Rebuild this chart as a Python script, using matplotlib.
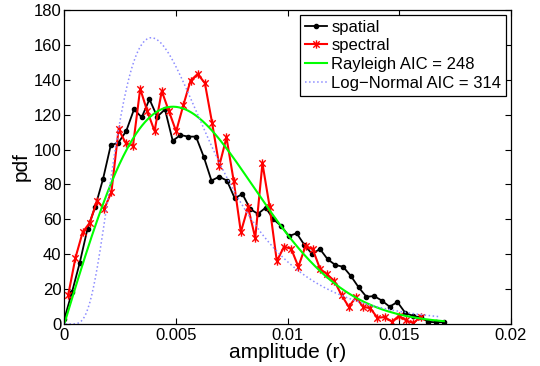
import numpy as np
import matplotlib
matplotlib.use("Agg")
import matplotlib.pyplot as plt
from matplotlib.path import Path

plt.rcParams['font.family'] = ['Liberation Sans', 'DejaVu Sans']

# ---- data ----
spatial_x = np.linspace(0.0, 0.017, 50)
spatial_y = [2.7, 18.3, 35.1, 54.6, 67.2, 83.0, 102.4, 104.0, 110.6, 123.0,
             118.5, 128.8, 118.8, 123.0, 105.0, 108.3, 107.4, 107.4, 95.9, 82.2,
             84.4, 82.2, 72.1, 74.5, 65.9, 63.1, 66.7, 60.0, 56.2, 50.4,
             52.0, 45.3, 40.1, 43.0, 37.1, 33.8, 32.8, 27.5, 21.0, 15.6,
             16.0, 13.4, 9.9, 12.6, 6.5, 4.6, 3.8, 1.2, 1.0, 1.0]

spectral_x = np.linspace(0.00018, 0.01596, 50)
spectral_y = [16.8, 38.0, 52.6, 58.1, 70.7, 65.9, 75.7, 111.6, 103.6, 102.2,
              134.8, 121.8, 110.6, 133.5, 121.9, 110.4, 125.4, 139.5, 143.3, 138.0,
              115.3, 90.7, 106.9, 82.1, 52.7, 67.0, 49.3, 92.1, 67.2, 36.0,
              44.3, 43.1, 32.8, 44.8, 42.8, 31.7, 28.4, 24.7, 16.5, 9.9,
              15.2, 9.9, 9.0, 3.5, 4.0, 1.3, 4.7, 2.0, 0.5, 4.2]

# fitted distribution parameters
rayleigh_sigma = 0.00487
lognorm_mu = -5.256
lognorm_s = 0.539
labels = ['spatial', 'spectral', 'Rayleigh AIC = 248', 'Log\u2212Normal AIC = 314']
xticks = [0, 0.005, 0.01, 0.015, 0.02]
xticklabels = ['0', '0.005', '0.01', '0.015', '0.02']
yticks = list(range(0, 181, 20))

# ---- model curves ----
r_ray = np.linspace(0.0, 0.017, 400)
pdf_ray = r_ray / rayleigh_sigma**2 * np.exp(-r_ray**2 / (2 * rayleigh_sigma**2))
r_ln = np.linspace(0.00005, 0.0168, 400)
pdf_ln = 1.0 / (r_ln * lognorm_s * np.sqrt(2 * np.pi)) * \
    np.exp(-(np.log(r_ln) - lognorm_mu)**2 / (2 * lognorm_s**2))

# asterisk-like marker (x plus vertical bar)
star = Path([(-1, -1), (1, 1), (-1, 1), (1, -1), (0, -1.3), (0, 1.3)],
            [Path.MOVETO, Path.LINETO, Path.MOVETO, Path.LINETO, Path.MOVETO, Path.LINETO])

fig = plt.figure(figsize=(5.4, 3.66), dpi=100)
ax = fig.add_axes([0.119, 0.1148, 0.827, 0.858])

ax.plot(spatial_x, spatial_y, '-', color='black', lw=1.3, marker='o',
        markersize=3.0, label=labels[0])
ax.plot(spectral_x, spectral_y, '-', color='red', lw=1.5, marker=star,
        markersize=6, markeredgewidth=1.0, markerfacecolor='none', label=labels[1])
ax.plot(r_ray, pdf_ray, '-', color=(0, 1, 0), lw=1.5, label=labels[2])
ax.plot(r_ln, pdf_ln, ':', color=(0.55, 0.55, 1.0), lw=1.1, label=labels[3])

ax.set_xlim(0, 0.02)
ax.set_ylim(0, 180)
ax.set_xticks(xticks)
ax.set_xticklabels(xticklabels)
ax.set_yticks(yticks)
ax.tick_params(direction='in', top=True, right=True, length=4, width=0.8,
               labelsize=12)
ax.tick_params(axis='x', pad=3)
ax.tick_params(axis='y', pad=2)
for s in ax.spines.values():
    s.set_linewidth(0.9)

ax.set_xlabel('amplitude (r)', fontsize=15, labelpad=0)
ax.set_ylabel('pdf', fontsize=15, labelpad=2)

leg = ax.legend(loc='upper right', fontsize=12, frameon=True, fancybox=False,
                edgecolor='black', framealpha=1, handlelength=1.3,
                handletextpad=0.25, borderpad=0.3, labelspacing=0.22,
                borderaxespad=0.28)
leg.get_frame().set_linewidth(0.9)

fig.savefig('out.png', dpi=100)
